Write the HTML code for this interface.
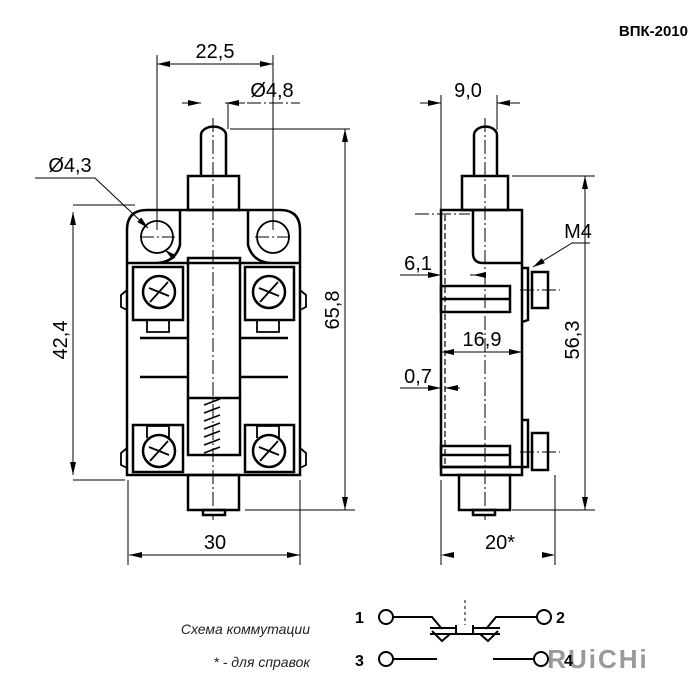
<!DOCTYPE html>
<html><head><meta charset="utf-8"><style>body{margin:0;background:#fff}svg{display:block}</style></head><body>
<svg width="700" height="700" viewBox="0 0 700 700" xmlns="http://www.w3.org/2000/svg" font-family="Liberation Sans, sans-serif">
<defs><marker id="a" viewBox="0 0 12 6" refX="12" refY="3" markerUnits="userSpaceOnUse" markerWidth="13" markerHeight="6" orient="auto"><path d="M0,0L12,3L0,6z" fill="#000"/></marker></defs>
<text x="688" y="36" font-size="15" font-weight="bold" text-anchor="end">ВПК-2010</text>
<g fill="none" stroke="#000" stroke-width="2.5">
<path d="M201,176V135a12,8 0 0 1 25,0V176"/>
<rect x="188" y="176" width="51" height="34"/>
<path d="M127,475V230q0-20 20-20H280q20 0 20 20V475Z"/>
<path d="M180,210V245q-5,18-25,18M248,210V245q5,18 25,18M127,263H300"/>
<circle cx="157" cy="237" r="16" stroke-width="1.8"/><circle cx="273" cy="237" r="16" stroke-width="1.8"/>
<rect x="188" y="258" width="52" height="140"/>
<path d="M188,398V455H240V398"/>
<rect x="133" y="267" width="50" height="53"/><rect x="245" y="267" width="49" height="53"/>
<rect x="133" y="425" width="50" height="47"/><rect x="245" y="425" width="49" height="47"/>
<circle cx="159" cy="292" r="16"/><circle cx="269" cy="292" r="16"/>
<circle cx="159" cy="451" r="16"/><circle cx="269" cy="451" r="16"/>
<rect x="188" y="475" width="51" height="35"/><rect x="203" y="510" width="22" height="5"/>
<path d="M127,290l-6,5v12l6,3M300,290l6,5v12l-6,3M127,448l-6,5v12l6,3M300,448l6,5v12l-6,3" stroke-width="1.8"/>
<path d="M147,320v12h22v-12M257,320v12h22v-12M147,438v-12h22v12M257,438v-12h22v12" stroke-width="1.8"/>
</g>
<g stroke="#000" stroke-width="2.5">
<path d="M140,338H188M240,338H288M140,377H188M240,377H288"/>
<path d="M150,302l18,-20M260,302l18,-20M150,461l18,-20M260,461l18,-20M149,288l20,8M259,288l20,8M149,447l20,8M259,447l20,8" stroke-width="1.8"/>
<path d="M204,405l16,-6M204,413l16,-6M204,421l16,-6M204,429l16,-6M204,437l16,-6M204,445l16,-6M204,453l16,-6" stroke-width="1.6"/>
</g>
<!-- right view -->
<g fill="none" stroke="#000" stroke-width="2.5">
<path d="M474,176V135a11,8 0 0 1 23,0V176"/>
<rect x="462" y="176" width="46" height="34"/>
<rect x="441" y="210" width="81" height="265"/>
<path d="M473,210V253q0,10 10,10H522"/>
<rect x="441" y="286" width="69" height="26"/><path d="M441,299H510"/>
<rect x="441" y="446" width="69" height="21"/><path d="M441,455H510M441,467H528V420H522"/>
<path d="M522,268H528V320L522,322"/>
<rect x="532" y="272" width="16" height="36"/><rect x="532" y="433" width="16" height="37"/>
<rect x="459" y="475" width="51" height="35"/><rect x="473" y="510" width="22" height="5"/>
<path d="M445,215V465" stroke-width="1.2" stroke-dasharray="6,3"/>
</g>
<!-- dimension lines -->
<g stroke="#000" stroke-width="1" fill="none">
<path d="M157,55V230M273,55V230M128,480V565M300,480V565M350,129H230M245,510H355M73,205H135M73,480H125M441,95V210M497,95V130M441,480V565M555,475V565M512,176H595M512,510H595M228,103V129"/>
<path d="M213,118V520M485,118V520M140,237H175M255,237H290M520,290H560M520,452H560M415,214H470M225,103H300" stroke-dasharray="14,3,2,3"/>
<path d="M157,64H273M129,555H300M73,212V475M345,129V510M585,176V510M441,352H522"/>
<path d="M400,275H441M400,388H441M485,275H470M460,388H445M182,103H201M245,103H226M420,103H441M520,103H497"/>
<path d="M35,178H95L148,228" marker-end="url(#a)"/>
<path d="M175,258L165,250" marker-end="url(#a)"/>
<path d="M590,243H572L533,267" marker-end="url(#a)"/>
</g>
<g fill="#000">
<path d="M157,64l13,-3v6zM273,64l-13,-3v6z"/>
<path d="M129,555l13,-3v6zM300,555l-13,-3v6z"/>
<path d="M441,555l13,-3v6zM555,555l-13,-3v6z"/>
<path d="M441,352l13,-3v6zM522,352l-13,-3v6z"/>
<path d="M441,103l-13,-3v6zM497,103l13,-3v6z"/>
<path d="M201,103l-13,-3v6zM226,103l13,-3v6z"/>
<path d="M441,275l-13,-3v6zM473,275l13,-3v6z"/>
<path d="M441,388l-13,-3v6zM445,388l13,-3v6z"/>
<path d="M73,212l-3,13h6zM73,475l-3,-13h6z"/>
<path d="M345,129l-3,13h6zM345,510l-3,-13h6z"/>
<path d="M585,176l-3,13h6zM585,510l-3,-13h6z"/>
</g>
<g font-size="20" fill="#000">
<text x="215" y="58" text-anchor="middle">22,5</text>
<text x="272" y="97" text-anchor="middle">Ø4,8</text>
<text x="70" y="172" text-anchor="middle">Ø4,3</text>
<text x="215" y="549" text-anchor="middle">30</text>
<text x="468" y="97" text-anchor="middle">9,0</text>
<text x="578" y="238" text-anchor="middle">M4</text>
<text x="418" y="270" text-anchor="middle">6,1</text>
<text x="482" y="346" text-anchor="middle">16,9</text>
<text x="418" y="383" text-anchor="middle">0,7</text>
<text x="500" y="549" text-anchor="middle">20*</text>
<text transform="translate(67,340) rotate(-90)" text-anchor="middle">42,4</text>
<text transform="translate(339,310) rotate(-90)" text-anchor="middle">65,8</text>
<text transform="translate(579,340) rotate(-90)" text-anchor="middle">56,3</text>
</g>
<g font-size="14" font-style="italic" fill="#222">
<text x="310" y="634" text-anchor="end">Схема коммутации</text>
<text x="310" y="667" text-anchor="end">* - для справок</text>
</g>
<text x="598" y="668" font-size="26" font-weight="bold" fill="#999" text-anchor="middle" letter-spacing="2">RUiCHi</text>
<g font-size="16" font-weight="bold"><text x="355" y="623">1</text><text x="556" y="623">2</text><text x="355" y="666">3</text><text x="564" y="666">4</text></g>
<g fill="none" stroke="#000" stroke-width="2">
<circle cx="386" cy="617" r="7"/><circle cx="544" cy="617" r="7"/><circle cx="386" cy="659" r="7"/><circle cx="541" cy="659" r="7"/>
<path d="M393,617H432l10,12M537,617H496l-10,12M393,659H437M493,659H534M430,634H500M456,625V634M473,625V634M432,631l10,10l8,-7M498,631l-10,10l-8,-7M430,628H456M473,628H500"/>
<path d="M465,600V625" stroke-width="1" stroke-dasharray="3,3"/>
</g>
</svg>
</body></html>
